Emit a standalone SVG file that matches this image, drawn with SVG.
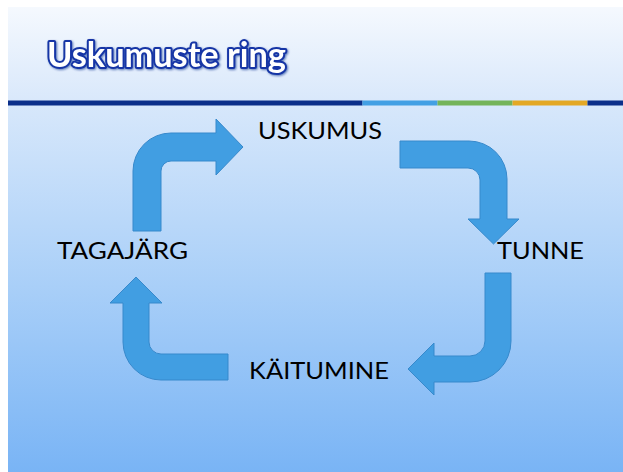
<svg xmlns="http://www.w3.org/2000/svg" width="623" height="472" viewBox="0 0 623 472">
  <defs>
    <linearGradient id="titleBg" x1="0" y1="0" x2="0" y2="1">
      <stop offset="0" stop-color="#f5f9fe"/>
      <stop offset="1" stop-color="#d9e8fb"/>
    </linearGradient>
    <linearGradient id="bodyBg" x1="0" y1="0" x2="0" y2="1">
      <stop offset="0" stop-color="#d8e8fb"/>
      <stop offset="0.5" stop-color="#a9cff8"/>
      <stop offset="1" stop-color="#79b4f5"/>
    </linearGradient>
    <filter id="titleShadow" x="-10%" y="-30%" width="120%" height="160%">
      <feGaussianBlur in="SourceAlpha" stdDeviation="1"/>
      <feOffset dx="1" dy="1" result="b"/>
      <feFlood flood-color="#0a2a8a" flood-opacity="0.6"/>
      <feComposite in2="b" operator="in"/>
      <feMerge><feMergeNode/><feMergeNode in="SourceGraphic"/></feMerge>
    </filter>
  </defs>
  <style>
    .arrow { fill: #419ee2; stroke: #3789cc; stroke-width: 1; stroke-linejoin: miter; }
    .label { font-family: "Lato", "Liberation Sans", sans-serif; font-size: 23px; fill: #000; }
    .title { font-family: "Lato", "Liberation Sans", sans-serif; font-weight: bold; font-size: 34px; fill: #ffffff; stroke: #1636a6; stroke-width: 4; paint-order: stroke; stroke-linejoin: round; }
  </style>

  <rect x="0" y="0" width="623" height="472" fill="#ffffff"/>
  <rect x="8" y="7" width="615" height="94" fill="url(#titleBg)"/>
  <rect x="8" y="100" width="615" height="372" fill="url(#bodyBg)"/>

  <g id="title-bar">
    <rect x="8" y="100.5" width="354.5" height="5" fill="#0b2f8a"/>
    <rect x="362.5" y="100.5" width="75" height="5" fill="#43a0e4"/>
    <rect x="437.5" y="100.5" width="75" height="5" fill="#74b45a"/>
    <rect x="512.5" y="100.5" width="75" height="5" fill="#e3a825"/>
    <rect x="587.5" y="100.5" width="35.5" height="5" fill="#0b2f8a"/>
  </g>

  <g id="title">
    <text class="title" x="47" y="67" textLength="239" lengthAdjust="spacingAndGlyphs" filter="url(#titleShadow)">Uskumuste ring</text>
  </g>

  <g id="node-uskumus">
    <text class="label" x="258" y="138.5" textLength="124" lengthAdjust="spacingAndGlyphs">USKUMUS</text>
  </g>
  <g id="node-tunne">
    <text class="label" x="497" y="258.5" textLength="87" lengthAdjust="spacingAndGlyphs">TUNNE</text>
  </g>
  <g id="node-kaitumine">
    <text class="label" x="249" y="378.5" textLength="140" lengthAdjust="spacingAndGlyphs">KÄITUMINE</text>
  </g>
  <g id="node-tagajarg">
    <text class="label" x="57" y="258.5" textLength="131" lengthAdjust="spacingAndGlyphs">TAGAJÄRG</text>
  </g>

  <g id="connectors">
    <path class="arrow" d="M133,231 L133,171 A38,38 0 0 1 171,133 L216,133 L216,119 L243,147 L216,175 L216,161 L171,161 A10,10 0 0 0 161,171 L161,231 Z"/>
    <path class="arrow" d="M400,141 L469,141 A38,38 0 0 1 507,179 L507,219 L519,219 L493.5,244 L468,219 L480,219 L480,180 A12,12 0 0 0 468,168 L400,168 Z"/>
    <path class="arrow" d="M485,273 L511,273 L511,341 A41,41 0 0 1 470,382 L434,382 L434,395 L408,369 L434,343 L434,356 L470,356 A15,15 0 0 0 485,341 Z"/>
    <path class="arrow" d="M228,354 L161,354 A12,12 0 0 1 149,342 L149,303 L162,303 L136,277 L110,303 L123,303 L123,342 A38,38 0 0 0 161,380 L228,380 Z"/>
  </g>
</svg>
